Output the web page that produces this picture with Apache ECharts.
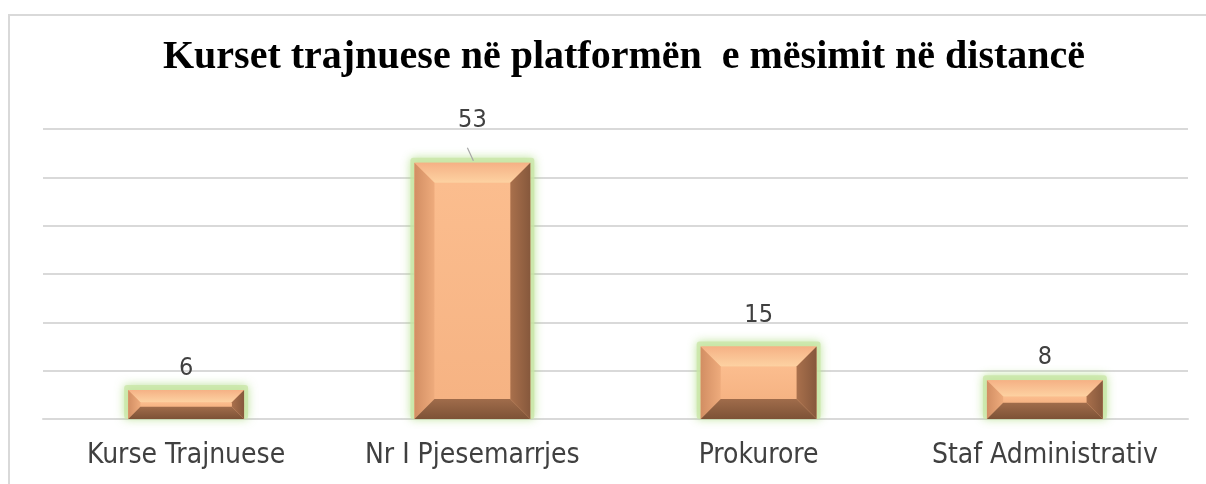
<!DOCTYPE html>
<html>
<head>
<meta charset="utf-8">
<script src="https://cdn.jsdelivr.net/npm/echarts@6/dist/echarts.min.js"></script>
<style>html,body{margin:0;padding:0;background:#fff}#c{width:1206px;height:484px}</style>
</head>
<body>
<div id="c"></div>
<script>
const titleText = 'Kurset trajnuese në platformën  e mësimit në distancë';
const categories = ['Kurse Trajnuese', 'Nr I Pjesemarrjes', 'Prokurore', 'Staf Administrativ'];
const values = [6, 53, 15, 8];
const yMin = 0, yMax = 60, yInterval = 10;

// label placement tweaks (extra lift in px) – style only
const labelLift = [0, 20, 9, 1];

const chart = echarts.init(document.getElementById('c'));

function lg(x1, y1, x2, y2, c1, c2) {
  return new echarts.graphic.LinearGradient(x1, y1, x2, y2, [{offset: 0, color: c1}, {offset: 1, color: c2}]);
}

function renderItem(params, api) {
  const i = api.value(0);
  const v = api.value(1);
  const top = api.coord([i, v]);
  const base = api.coord([i, 0]);
  const bw = api.size([1, 0])[0] * 0.405;
  const x0 = top[0] - bw / 2, x1 = x0 + bw, y0 = top[1], y1 = base[1];
  const h = y1 - y0;
  const b = Math.min(20, h * 0.42);
  const children = [
    {type: 'rect', shape: {x: x0 - 4, y: y0 - 5, width: bw + 8, height: h + 5, r: 3},
     style: {fill: 'rgba(200,230,165,0.75)', shadowBlur: 10, shadowColor: 'rgba(160,215,110,0.9)'}},
    {type: 'rect', shape: {x: x0, y: y0, width: bw, height: h},
     style: {fill: '#f7b586'}},
    {type: 'rect', shape: {x: x0 + b, y: y0 + b, width: bw - 2 * b, height: Math.max(0, h - 2 * b)},
     style: {fill: lg(0, 0, 0, 1, '#fbbd8e', '#f6b383')}},
    {type: 'polygon', shape: {points: [[x0, y0], [x1, y0], [x1 - b, y0 + b], [x0 + b, y0 + b]]},
     style: {fill: lg(0, 0, 0, 1, '#f5b185', '#fdd2a2')}},
    {type: 'polygon', shape: {points: [[x0, y0], [x0 + b, y0 + b], [x0 + b, y1 - b], [x0, y1]]},
     style: {fill: lg(0, 0, 1, 0, '#d28e63', '#eeab7c')}},
    {type: 'polygon', shape: {points: [[x1, y0], [x1, y1], [x1 - b, y1 - b], [x1 - b, y0 + b]]},
     style: {fill: lg(1, 0, 0, 0, '#86583c', '#a9704c')}},
    {type: 'polygon', shape: {points: [[x0, y1], [x1, y1], [x1 - b, y1 - b], [x0 + b, y1 - b]]},
     style: {fill: lg(0, 1, 0, 0, '#7d5236', '#a06c4b')}},
    {type: 'text', x: top[0], y: y0 - 22 - labelLift[i],
     style: {text: String(v), fill: '#404040', font: '25px "DejaVu Sans Condensed", "DejaVu Sans"', align: 'center', verticalAlign: 'middle'}}
  ];
  if (labelLift[i] > 15) {
    children.push({type: 'line', shape: {x1: top[0] - 5, y1: y0 - 15, x2: top[0] + 1, y2: y0 - 2},
      style: {stroke: '#a6a6a6', lineWidth: 1.2}});
  }
  return {type: 'group', children};
}

chart.setOption({
  animation: false,
  backgroundColor: '#ffffff',
  graphic: [
    {type: 'rect', shape: {x: 9, y: 15, width: 1400, height: 700}, silent: true,
     style: {fill: 'none', stroke: '#d9d9d9', lineWidth: 2}},
    {type: 'text', x: 624, y: 58,
     style: {text: titleText, fill: '#000', font: 'bold 40px "Liberation Serif"', align: 'center', verticalAlign: 'middle'}}
  ],
  grid: {left: 43, right: 18, top: 129, bottom: 65},
  xAxis: {
    type: 'category', data: categories,
    axisLine: {lineStyle: {color: '#d9d9d9', width: 2}},
    axisTick: {show: false},
    axisLabel: {interval: 0, hideOverlap: false, color: '#404040', fontSize: 28, fontFamily: '"DejaVu Sans Condensed", "DejaVu Sans"', margin: 23}
  },
  yAxis: {
    type: 'value', min: yMin, max: yMax, interval: yInterval,
    axisLine: {show: false}, axisTick: {show: false}, axisLabel: {show: false},
    splitLine: {lineStyle: {color: '#d9d9d9', width: 2}}
  },
  series: [{
    type: 'custom',
    renderItem,
    encode: {x: 0, y: 1},
    data: values.map((v, i) => [i, v]),
    z: 3
  }]
});
</script>
</body>
</html>
